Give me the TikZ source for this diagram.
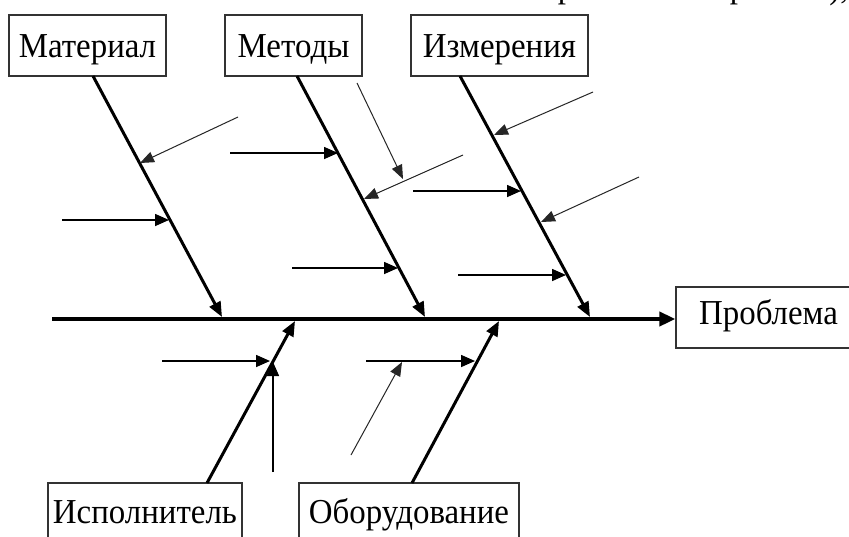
\documentclass[tikz,border=0pt]{standalone}
\usepackage{fontspec}
\setmainfont{Liberation Serif}[FakeStretch=0.94]
\usetikzlibrary{arrows.meta}
\begin{document}
\begin{tikzpicture}[x=1pt,y=-1pt,
  box/.style={draw=black!80, line width=1.3pt, fill=white, font=\fontsize{35}{40}\selectfont, inner xsep=0pt, minimum height=61pt},
  topbox/.style={box, text height=30pt, text depth=7pt},
  botbox/.style={box, minimum height=70pt, text height=17pt, text depth=7pt},
  bone/.style={line width=3pt, -{Triangle[length=15pt,width=12pt]}},
  spine/.style={line width=4.5pt, -{Triangle[length=16pt,width=14pt]}},
  cause/.style={line width=1.6pt, -{Triangle[length=14pt,width=12pt]}},
  thincause/.style={line width=1pt, black!85, -{Triangle[length=14pt,width=11pt]}},
  frag/.style={anchor=base, font=\fontsize{35}{40}\selectfont, inner sep=0pt}
]
\fill[white] (0,0) rectangle (849,536);
\useasboundingbox (0,0) rectangle (849,536);

% cut-off text fragments at the top edge
\node[frag] (fa) at (566,-3) {р};
\node[frag] (fb) at (738,-3) {р};
\node[frag] (fc) at (839,-2) {),};

% category boxes
\node[topbox, minimum width=157pt] (mat) at (87.5,45.5) {Материал};
\node[topbox, minimum width=137pt] (met) at (293.5,45.5) {Методы};
\node[topbox, minimum width=177pt] (izm) at (499.5,45.5) {Измерения};
\node[box, minimum width=185pt, text height=20pt, text depth=7pt] (prob) at (768.5,317.5) {Проблема};
\node[botbox, minimum width=194pt] (isp) at (145,518) {Исполнитель};
\node[botbox, minimum width=220pt] (obo) at (409,518) {Оборудование};

% spine
\coordinate (tail) at (52,319);
\draw[spine] (tail) -- (prob.west |- tail);

% bone end points
\coordinate (matS) at (93,76);   \coordinate (matE) at (222,317);
\coordinate (metS) at (297,76);  \coordinate (metE) at (425,317);
\coordinate (izmS) at (460,76);  \coordinate (izmE) at (590,317);
\coordinate (ispS) at (207,483); \coordinate (ispE) at (295,321);
\coordinate (oboS) at (412,483); \coordinate (oboE) at (499,321);

\draw[bone] (matS) -- (matE);
\draw[bone] (metS) -- (metE);
\draw[bone] (izmS) -- (izmE);
\draw[bone] (ispS) -- (ispE);
\draw[bone] (oboS) -- (oboE);

% causes: Материал
\coordinate (a1) at (238,117); \coordinate (a1t) at (140,163);
\coordinate (a2) at (62,220);  \coordinate (a2t) at (169,220);
\draw[thincause] (a1) -- (a1t);
\draw[cause] (a2) -- (a2t);

% causes: Методы
\coordinate (b1) at (230,153); \coordinate (b1t) at (338,153);
\coordinate (b2) at (357,83);  \coordinate (b2t) at (403,179);
\coordinate (b3) at (463,155); \coordinate (b3t) at (364,199);
\coordinate (b4) at (292,268); \coordinate (b4t) at (398,268);
\draw[cause] (b1) -- (b1t);
\draw[thincause] (b2) -- (b2t);
\draw[thincause] (b3) -- (b3t);
\draw[cause] (b4) -- (b4t);

% causes: Измерения
\coordinate (c1) at (593,92);  \coordinate (c1t) at (494,135);
\coordinate (c2) at (413,191); \coordinate (c2t) at (521,191);
\coordinate (c3) at (639,177); \coordinate (c3t) at (541,222);
\coordinate (c4) at (458,275); \coordinate (c4t) at (566,275);
\draw[thincause] (c1) -- (c1t);
\draw[cause] (c2) -- (c2t);
\draw[thincause] (c3) -- (c3t);
\draw[cause] (c4) -- (c4t);

% causes: Исполнитель
\coordinate (d1) at (162,361); \coordinate (d1t) at (270,361);
\coordinate (d2) at (273,472); \coordinate (d2t) at (273,362);
\draw[cause] (d1) -- (d1t);
\draw[cause] (d2) -- (d2t);

% causes: Оборудование
\coordinate (e1) at (366,361); \coordinate (e1t) at (475,361);
\coordinate (e2) at (351,455); \coordinate (e2t) at (402,362);
\draw[cause] (e1) -- (e1t);
\draw[thincause] (e2) -- (e2t);
\end{tikzpicture}
\end{document}
